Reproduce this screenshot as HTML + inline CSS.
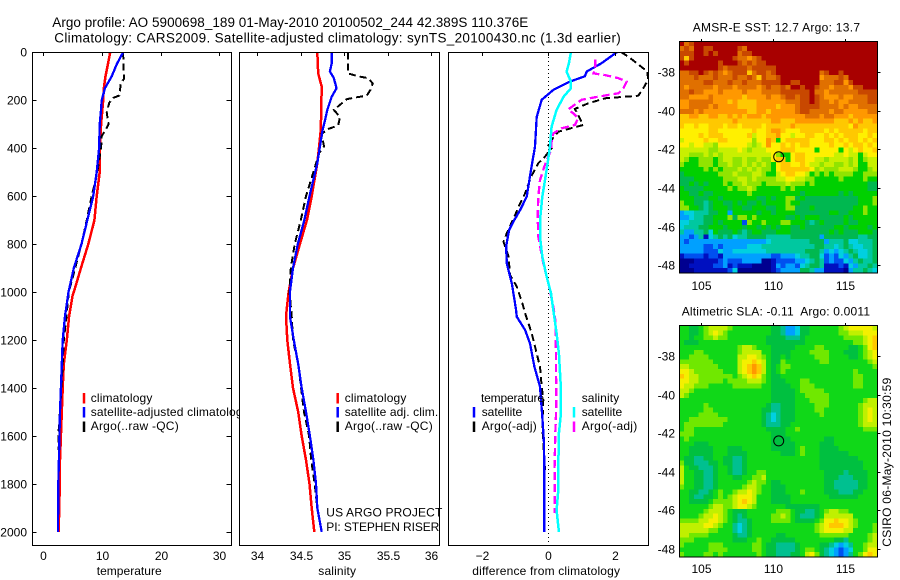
<!DOCTYPE html>
<html>
<head>
<meta charset="utf-8">
<title>Argo profile 5900698_189</title>
<style>
html,body{margin:0;padding:0;background:#fff;}
svg{display:block;}
text{font-family:"Liberation Sans",sans-serif;font-size:12px;fill:#000;}
.ttl{font-size:13.5px;}
.frame{fill:none;stroke:#000;stroke-width:1;shape-rendering:crispEdges;}
.bg{fill:#fff;stroke:none;}
</style>
</head>
<body>
<svg id="figure" xmlns="http://www.w3.org/2000/svg" width="900" height="580" viewBox="0 0 900 580">
<rect class="bg" x="0" y="0" width="900" height="580"/>
<text class="ttl" x="52.3" y="27" textLength="476" lengthAdjust="spacing">Argo profile: AO 5900698_189 01-May-2010 20100502_244 42.389S 110.376E</text>
<text class="ttl" x="54.3" y="42.5" textLength="566.5" lengthAdjust="spacing">Climatology: CARS2009. Satellite-adjusted climatology: synTS_20100430.nc (1.3d earlier)</text>

<g id="panel-t">
<rect class="bg" x="32.5" y="52.5" width="199" height="493"/>
<g id="series-t" clip-path="url(#clip-t)"></g>
<rect class="frame" x="32.5" y="52.5" width="199" height="493"/>
<g id="ticks-t"></g>
<text x="96.7" y="575" textLength="65" lengthAdjust="spacing">temperature</text>
<g>
<line x1="84" x2="84" y1="393" y2="403.5" stroke="#f00" stroke-width="2.5"/>
<line x1="84" x2="84" y1="407" y2="417.5" stroke="#00f" stroke-width="2.5"/>
<line x1="84" x2="84" y1="421.5" y2="432" stroke="#000" stroke-width="2.5"/>
<text x="90.7" y="402" textLength="61.7" lengthAdjust="spacing">climatology</text>
<text x="90.7" y="416" textLength="158" lengthAdjust="spacing">satellite-adjusted climatology</text>
<text x="90.7" y="430" textLength="88" lengthAdjust="spacing">Argo(..raw -QC)</text>
</g>
</g>

<g id="panel-s">
<rect class="bg" x="239.5" y="52.5" width="200" height="493"/>
<g id="series-s" clip-path="url(#clip-s)"></g>
<g id="ticks-s"></g>
<text x="318.3" y="575" textLength="37.7" lengthAdjust="spacing">salinity</text>
<g>
<line x1="337.7" x2="337.7" y1="393" y2="403.5" stroke="#f00" stroke-width="2.5"/>
<line x1="337.7" x2="337.7" y1="407" y2="417.5" stroke="#00f" stroke-width="2.5"/>
<line x1="337.7" x2="337.7" y1="421.5" y2="432" stroke="#000" stroke-width="2.5"/>
<text x="344.7" y="402" textLength="61.7" lengthAdjust="spacing">climatology</text>
<text x="344.7" y="416" textLength="93.5" lengthAdjust="spacing">satellite adj. clim.</text>
<text x="344.7" y="430" textLength="88" lengthAdjust="spacing">Argo(..raw -QC)</text>
</g>
<text x="326.3" y="516.7" textLength="116" lengthAdjust="spacing">US ARGO PROJECT</text>
<text x="326.3" y="531" textLength="113" lengthAdjust="spacing">PI: STEPHEN RISER</text>
<rect class="frame" x="239.5" y="52.5" width="200" height="493"/>
</g>

<g id="panel-d">
<rect class="bg" x="448.5" y="52.5" width="200" height="493"/>
<g id="series-d" clip-path="url(#clip-d)"></g>
<rect class="frame" x="448.5" y="52.5" width="200" height="493"/>
<g id="ticks-d"></g>
<text x="472.3" y="575" textLength="147.7" lengthAdjust="spacing">difference from climatology</text>
<g>
<line x1="474" x2="474" y1="407" y2="417.5" stroke="#00f" stroke-width="2.5"/>
<line x1="474" x2="474" y1="421.5" y2="432" stroke="#000" stroke-width="2.5"/>
<line x1="574" x2="574" y1="407" y2="417.5" stroke="#0ff" stroke-width="2.5"/>
<line x1="574" x2="574" y1="421.5" y2="432" stroke="#f0f" stroke-width="2.5"/>
<text x="481" y="402" textLength="63" lengthAdjust="spacing">temperature</text>
<text x="481.7" y="416" textLength="40.5" lengthAdjust="spacing">satellite</text>
<text x="481.7" y="430" textLength="55" lengthAdjust="spacing">Argo(-adj)</text>
<text x="581.7" y="402" textLength="37.5" lengthAdjust="spacing">salinity</text>
<text x="581.7" y="416" textLength="40.5" lengthAdjust="spacing">satellite</text>
<text x="581.7" y="430" textLength="55.5" lengthAdjust="spacing">Argo(-adj)</text>
</g>
</g>

<g id="map-sst"></g>
<text x="692.7" y="31.7" textLength="167.3" lengthAdjust="spacing">AMSR-E SST: 12.7 Argo: 13.7</text>
<g id="map-sla"></g>
<text x="681.7" y="315.7" textLength="188.3" lengthAdjust="spacing" xml:space="preserve">Altimetric SLA: -0.11  Argo: 0.0011</text>
<text transform="translate(891,546.7) rotate(-90)" x="0" y="0" textLength="169" lengthAdjust="spacing">CSIRO 06-May-2010 10:30:59</text>

<defs>
<clipPath id="clip-t"><rect x="33" y="53" width="198" height="492"/></clipPath>
<clipPath id="clip-s"><rect x="240" y="53" width="199" height="492"/></clipPath>
<clipPath id="clip-d"><rect x="449" y="53" width="199" height="492"/></clipPath>
</defs>
</svg>

<script>
// ---- Tick labels ----
const depthTicks = [0,200,400,600,800,1000,1200,1400,1600,1800,2000];
const tempTicks = [0,10,20,30];
const salTicks = [34,34.5,35,35.5,36];
const diffTicks = [-2,0,2];
const lonTicks = [105,110,115];
const latTicks = [-38,-40,-42,-44,-46,-48];

// ---- Temperature panel (depth dbar, degC) ----
const climTempDepth = [0,50,100,150,200,300,400,500,600,700,800,900,1000,1012,1100,1200,1300,1400,1500,1600,1700,1800,1880,2000];
const climTempValue = [11.4,11.0,10.6,10.3,10.2,9.85,9.65,9.6,9.1,8.7,7.67,6.4,5.2,5.0,4.4,4.0,3.5,3.3,3.15,3.0,2.85,2.8,2.75,2.6];
const satTempDepth = [0,50,100,150,200,250,300,400,500,600,700,800,900,1000,1100,1200,1300,1400,1500,1600,1700,1800,2000];
const satTempValue = [13.6,12.5,11.65,10.5,9.95,9.8,9.6,9.5,9.1,8.5,7.5,6.5,5.2,4.3,3.7,3.3,3.15,3.0,2.85,2.75,2.65,2.55,2.5];
const argoTempDepth = [0,110,130,180,190,210,250,300,320,350,400,450,500,600,700,800,1000,1100,1200,1400,1600,1700];
const argoTempValue = [13.6,13.75,13.2,12.95,11.9,11.25,10.8,11.1,10.7,9.95,9.85,9.5,9.2,8.25,7.4,6.5,4.35,3.95,3.5,3.1,2.55,2.7];

// ---- Salinity panel ----
const climSalDepth = [0,88,143,324,393,463,600,700,800,900,1000,1100,1200,1300,1400,1500,1600,1700,1800,1900,2000];
const climSalValue = [34.69,34.70,34.74,34.73,34.71,34.69,34.625,34.57,34.49,34.41,34.36,34.33,34.345,34.376,34.41,34.47,34.51,34.56,34.6,34.625,34.655];
const satSalDepth = [0,46,80,108,150,185,240,280,324,393,463,600,700,800,900,1000,1100,1200,1300,1400,1500,1600,1700,1800,1900,2000];
const satSalValue = [34.855,34.855,34.835,34.88,34.91,34.855,34.805,34.78,34.75,34.72,34.69,34.6,34.54,34.465,34.41,34.375,34.375,34.42,34.47,34.51,34.56,34.605,34.645,34.675,34.69,34.74];
const argoSalDepth = [0,88,100,108,130,157,180,195,240,270,305,320,340,393,420,500,600,700,800,900,1000,1100,1200,1300,1500,1600,1700,1800,1900];
const argoSalValue = [35.04,35.045,35.157,35.276,35.326,35.3,35.26,35.03,34.88,34.95,34.93,34.815,34.74,34.767,34.71,34.645,34.56,34.5,34.43,34.385,34.37,34.395,34.41,34.47,34.537,34.595,34.62,34.66,34.69];

// ---- Difference panel ----
const satTempDiffDepth = [0,46,80,100,122,157,198,270,393,491,602,658,706,741,810,880,963,1067,1103,1158,1214,1311,1394,1520,1630,1780,2000];
const satTempDiffValue = [2.06,1.6,1.16,1.1,0.65,0.15,-0.2,-0.35,-0.4,-0.52,-0.65,-0.85,-1.05,-1.18,-1.27,-1.25,-1.1,-0.98,-0.95,-0.7,-0.55,-0.42,-0.25,-0.18,-0.13,-0.12,-0.12];
const argoTempDiffDepth = [0,18,81,116,150,181,192,213,236,275,303,331,373,380,400,435,463,519,588,630,672,755,790,852,929,977,1047,1088,1172,1311,1394,1450,1561,1630,1742];
const argoTempDiffValue = [2.2,2.41,2.99,3.0,2.86,2.71,1.71,1.2,0.8,0.95,1.05,0.3,0.05,-0.05,0.1,-0.1,-0.3,-0.52,-0.7,-0.85,-0.98,-1.25,-1.35,-1.2,-1.15,-0.95,-0.78,-0.7,-0.5,-0.25,-0.2,-0.15,-0.18,-0.15,-0.1];
const satSalDiffDepth = [0,46,81,122,150,185,240,310,393,463,533,602,700,770,852,935,1005,1075,1172,1255,1380,1520,1589,1728,1825,1909,2000];
const satSalDiffValue = [0.68,0.62,0.55,0.68,0.68,0.46,0.25,0.1,0.05,-0.02,-0.1,-0.18,-0.25,-0.25,-0.18,-0.05,0.08,0.15,0.25,0.32,0.37,0.37,0.32,0.3,0.3,0.25,0.32];
const argoSalDiffDepth = [30,64,88,95,108,122,150,171,185,198,233,240,254,275,303,317,338,373,407,477,533,602,686,770,880,963,1067,1116,1241,1477,1589,1728,1922];
const argoSalDiffValue = [1.41,1.41,1.36,1.71,2.11,2.36,2.26,2.11,1.5,1.0,0.65,0.6,0.75,0.9,0.8,0.4,0.15,0.1,0.08,-0.12,-0.25,-0.3,-0.32,-0.3,-0.15,0,0.16,0.21,0.23,0.24,0.21,0.19,0.19];

// ---- Float position ----
const argoLon = 110.376;
const argoLat = -42.389;

// ---- Map colour classes, low to high ----
const sstPalette = ['#000090','#0010c0','#0050f0','#00a0ff','#00d0e0','#00c8a0','#00b850','#00d000','#90e400','#c8f000','#fff000','#ffc800','#ff9800','#e07000','#c84800','#a80000'];
const slaPalette = ['#000090','#0010c0','#0050f0','#00a0ff','#00d0e0','#00c090','#00c040','#10d818','#70e800','#c0f000','#f4f000','#ffc800','#ff9800','#e07000','#c84800','#a80000'];

// ---- SST map: colour class per cell, north to south ----
const sstGrid = [
[15,13,14,15,15,15,15,15,15,15,15,15,15,15,15,15,15,15,15,15,15,15,15,15,15,15,15,15,15,15,15,15,15,15,15,15,15,15,15,15,15],
[13,14,13,15,15,14,14,15,15,15,15,15,14,13,15,15,15,15,15,15,15,15,15,15,15,15,15,15,15,15,15,15,15,15,15,15,15,15,15,15,15],
[14,14,14,15,15,14,15,14,15,15,15,15,13,14,14,15,15,15,15,15,15,15,15,15,15,15,15,15,15,15,15,15,15,15,15,15,15,15,15,15,15],
[14,11,14,15,15,15,15,15,15,15,15,14,13,13,12,13,14,15,15,15,15,15,15,15,15,15,15,15,15,15,15,15,15,15,15,15,15,15,15,15,15],
[15,14,15,15,15,15,15,15,14,15,15,15,14,13,14,13,14,14,15,15,15,15,15,15,15,15,15,15,15,15,15,15,15,15,15,15,15,15,15,15,15],
[15,15,15,15,15,15,15,15,14,13,14,14,14,14,13,14,14,14,14,14,15,15,15,15,15,15,15,15,15,15,15,15,15,15,15,15,15,15,15,15,15],
[13,13,14,14,15,14,13,14,13,12,13,14,14,14,11,13,14,14,13,14,15,15,15,15,15,15,15,15,15,13,14,15,15,14,15,15,15,15,15,15,15],
[13,13,13,14,13,13,13,14,13,13,13,14,13,13,14,13,11,14,13,13,14,15,15,15,15,15,15,15,15,12,13,13,13,14,13,15,15,15,15,15,15],
[13,13,13,13,13,14,14,13,13,13,14,13,13,14,13,13,13,14,14,14,14,15,15,14,14,15,15,15,15,13,13,13,14,14,12,14,15,15,15,15,15],
[13,12,13,13,13,13,13,12,13,13,13,12,13,13,13,13,12,13,14,13,13,14,13,15,15,14,15,15,14,13,13,12,13,13,13,12,14,14,15,15,15],
[13,13,14,13,13,12,12,12,13,12,12,12,12,13,12,12,12,13,13,13,13,14,14,14,14,14,14,15,13,13,12,13,13,13,13,13,13,14,14,14,14],
[13,13,12,12,12,12,13,12,12,12,12,12,12,11,12,12,12,12,13,12,12,13,14,14,13,14,14,15,14,13,12,12,12,13,12,12,13,13,13,14,14],
[12,12,13,13,13,13,13,12,12,12,11,12,11,11,11,11,12,12,12,12,12,12,13,13,13,14,14,15,14,13,13,12,13,12,12,13,13,13,13,14,14],
[12,12,13,13,13,13,12,13,12,12,12,12,11,11,11,11,12,12,12,12,11,12,12,12,13,14,14,14,14,13,13,13,13,12,13,12,12,13,13,13,13],
[13,13,13,12,13,12,12,12,12,12,12,12,12,12,11,11,12,12,11,12,12,12,12,12,13,14,14,13,13,13,13,12,13,13,12,12,12,12,12,13,13],
[11,11,12,12,11,11,12,12,11,11,12,11,12,11,12,12,12,11,12,12,12,12,12,12,12,12,13,13,13,12,13,13,12,12,12,11,12,12,12,12,12],
[11,11,11,11,11,11,11,11,11,11,11,12,11,11,11,11,11,11,11,12,12,11,11,11,12,12,12,12,12,12,12,12,11,11,11,12,11,12,11,11,12],
[11,10,10,11,10,10,11,11,11,10,11,11,10,11,11,11,11,10,11,11,11,11,11,12,11,11,11,11,11,11,11,11,11,11,11,10,12,11,11,11,11],
[10,10,10,10,10,10,11,11,10,10,10,10,10,10,10,11,10,10,11,12,12,11,10,10,10,11,11,11,11,11,10,11,10,11,11,11,11,11,10,11,11],
[10,10,10,10,11,10,11,11,11,10,10,10,10,10,11,9,10,10,11,11,12,10,10,9,10,10,11,11,10,10,11,10,11,10,11,11,11,10,10,11,10],
[9,10,10,10,10,11,10,10,11,11,10,10,10,10,10,8,10,10,12,11,7,10,11,11,11,11,11,10,10,10,11,11,10,11,10,11,11,10,11,10,11],
[10,10,9,10,10,9,9,8,10,10,10,10,10,10,9,8,9,10,12,10,10,11,10,11,10,11,11,10,10,10,10,11,10,10,11,10,11,11,10,11,10],
[9,9,9,9,9,9,8,8,9,9,9,9,10,9,8,9,9,9,10,10,10,11,11,11,10,10,10,10,7,10,10,10,10,7,10,9,10,11,10,10,11],
[9,9,8,8,8,9,8,9,8,9,9,9,9,9,9,9,9,9,9,10,8,7,7,10,11,11,10,10,10,10,10,10,9,9,10,9,9,7,9,10,10],
[9,8,7,7,8,8,8,7,8,9,9,8,8,9,8,8,9,8,8,10,11,11,7,10,11,11,10,10,9,9,8,9,9,9,9,8,9,7,8,9,9],
[8,7,7,7,8,8,8,7,8,8,9,8,8,9,8,9,8,9,8,7,10,11,11,10,10,11,10,9,9,8,9,9,8,8,9,8,9,7,7,9,9],
[7,7,7,7,7,8,7,8,7,8,8,8,9,8,9,8,9,8,8,7,10,11,11,11,11,11,11,10,8,9,8,8,8,9,9,9,8,7,7,8,9],
[6,7,7,7,7,7,7,7,8,8,8,9,8,8,8,9,9,8,7,7,9,10,11,11,10,10,9,7,8,7,8,7,8,8,8,8,7,7,8,8,8],
[6,6,6,7,7,7,7,7,7,8,8,8,9,9,8,9,8,8,8,8,9,9,10,10,9,9,8,8,7,7,7,7,7,8,7,7,7,7,8,7,7],
[6,6,7,6,7,6,7,7,7,8,7,8,8,9,8,8,8,7,8,8,8,8,9,8,8,8,7,8,7,7,7,7,7,7,7,7,7,7,7,6,6],
[7,6,6,6,6,7,7,7,7,7,8,7,8,8,9,8,7,7,7,7,7,8,7,8,7,7,7,7,7,7,7,7,7,7,7,7,7,7,7,6,6],
[7,7,6,6,7,6,6,7,7,7,7,7,7,7,8,7,7,7,7,7,7,7,7,7,7,6,7,7,7,7,7,7,7,6,7,6,7,7,7,7,7],
[7,7,7,6,6,6,7,7,6,7,7,7,7,7,7,7,6,6,7,6,7,7,8,8,6,7,6,6,6,6,6,6,6,6,6,6,6,7,7,7,8],
[8,7,7,6,6,5,6,7,7,6,6,7,6,7,6,6,7,6,7,7,7,7,8,7,7,6,6,6,6,6,6,6,6,6,6,6,6,7,7,7,8],
[8,8,7,7,6,5,6,7,7,7,6,7,7,6,6,7,7,7,6,6,7,7,8,8,6,6,6,7,6,6,6,6,6,6,6,6,7,7,8,7,7],
[3,4,4,5,5,5,6,6,7,7,3,7,7,7,7,7,6,7,7,6,7,7,7,7,6,6,6,6,6,6,6,7,7,6,6,7,7,7,8,7,7],
[3,3,4,5,5,6,6,7,7,7,8,6,8,8,7,8,7,7,7,7,7,7,6,6,7,6,7,7,7,6,6,6,6,6,7,6,7,7,7,7,7],
[4,4,5,5,5,6,6,7,6,7,7,7,7,2,8,7,7,8,7,7,7,8,8,7,7,7,6,5,6,7,6,6,6,6,7,6,6,7,7,7,7],
[4,5,5,5,6,6,7,7,7,6,7,7,7,6,7,7,6,7,6,7,6,7,7,6,6,7,6,6,6,6,6,6,7,7,6,7,7,7,7,6,7],
[5,3,3,5,5,6,4,7,6,6,6,7,6,5,6,7,7,6,6,6,7,7,7,6,6,6,6,6,6,6,6,7,6,7,6,6,6,7,7,7,6],
[3,3,2,3,5,1,4,5,6,5,6,4,5,5,6,6,6,6,5,5,5,5,5,6,6,6,6,6,6,3,6,6,6,6,6,6,6,5,5,6,6],
[3,2,3,3,3,3,3,3,3,3,3,3,3,3,3,3,3,3,4,5,5,5,5,5,5,5,5,6,6,6,3,5,5,5,6,4,4,5,5,5,6],
[3,3,3,3,3,2,2,3,2,3,3,3,3,3,4,4,4,5,5,5,5,5,5,5,5,5,5,5,6,6,5,5,4,5,6,5,4,4,5,5,6],
[3,3,3,3,3,2,2,2,4,3,3,4,4,4,4,4,4,4,5,5,5,5,5,5,5,5,6,6,6,5,3,4,3,4,5,6,5,4,4,5,6],
[1,2,2,2,2,1,2,2,1,3,3,3,3,3,3,3,3,3,3,2,2,3,3,3,4,5,5,6,6,4,2,3,2,4,3,5,6,4,4,5,6],
[0,0,0,1,1,1,1,1,2,3,2,2,2,3,3,3,3,0,0,1,2,2,2,2,3,3,4,5,6,5,2,3,2,2,4,3,5,6,5,5,6],
[0,0,1,1,1,1,1,2,2,3,1,2,1,1,1,0,0,0,0,1,3,2,3,3,2,4,5,6,6,5,1,1,1,2,1,4,3,5,5,6,5],
[0,0,0,1,1,1,1,1,1,1,2,4,0,0,0,0,0,0,0,1,2,3,3,3,3,6,6,5,3,3,1,1,1,1,0,3,5,5,6,5,4]
];

// ---- SLA map: colour class per cell, north to south ----
const slaGrid = [
[7,7,6,6,7,8,9,9,9,9,8,7,7,7,7,7,7,7,7,6,6,5,3,3,4,6,6,7,7,7,7,7,7,8,9,10,10,10,10,10,9],
[7,7,6,6,7,8,9,10,9,8,7,7,7,7,7,7,7,7,7,6,6,5,3,3,4,6,6,7,7,7,7,7,7,8,8,9,9,9,10,10,10],
[7,7,6,7,7,8,8,9,8,8,7,7,7,7,7,7,7,7,6,6,6,6,5,5,5,6,7,7,7,7,7,7,7,7,8,8,8,8,9,10,11],
[7,6,6,6,7,7,7,7,7,7,7,7,7,7,7,7,7,7,6,6,6,6,6,6,6,6,7,7,7,7,7,7,7,7,7,7,8,8,9,10,11],
[7,7,7,7,7,7,7,7,7,7,7,7,8,9,9,8,7,7,7,6,6,6,6,6,7,7,7,7,8,8,7,7,7,7,7,6,6,7,8,10,11],
[7,7,7,8,8,7,7,7,7,7,7,7,8,9,9,9,9,7,7,6,6,6,6,7,7,7,7,8,8,8,8,7,7,7,6,6,6,7,8,9,10],
[7,7,8,8,8,8,7,7,7,7,7,7,9,9,10,10,9,8,7,6,6,7,6,7,7,7,7,7,8,8,8,7,7,7,7,6,6,7,8,9,10],
[8,8,8,8,8,8,8,7,7,7,7,7,9,10,10,11,10,9,7,6,6,8,7,7,7,7,7,7,7,8,8,7,7,7,7,7,7,7,7,8,9],
[9,9,8,8,8,8,8,8,7,7,7,7,9,10,11,12,11,9,7,6,7,8,8,7,7,7,7,7,7,7,7,7,7,7,7,7,7,7,7,7,8],
[10,10,9,8,8,8,8,8,8,7,7,7,9,10,11,12,11,9,7,6,7,8,7,7,7,7,7,7,7,7,7,7,7,7,7,7,8,7,7,7,7],
[11,10,9,9,8,8,8,8,8,8,8,7,8,9,10,11,10,8,7,6,6,7,7,7,7,7,7,7,7,7,7,7,7,7,7,7,8,8,7,7,7],
[10,10,9,9,8,8,8,8,8,7,8,8,8,8,9,9,9,8,7,6,6,6,7,7,7,8,8,7,7,7,7,7,7,7,7,7,8,8,7,7,7],
[10,9,9,8,8,8,7,7,7,7,7,8,8,8,8,8,8,7,7,6,6,6,6,7,7,8,8,8,7,7,7,7,7,7,7,7,8,8,7,7,7],
[9,9,8,7,7,7,7,7,7,7,7,7,7,7,7,7,7,7,7,6,6,6,6,6,7,8,8,8,8,8,7,7,7,7,7,7,7,7,7,7,7],
[9,8,7,7,7,7,7,7,7,7,7,7,7,7,7,7,7,7,7,6,6,6,6,6,7,7,8,8,8,8,8,7,7,7,7,7,7,7,7,7,7],
[7,7,7,7,7,7,7,7,7,7,7,7,7,7,7,7,7,7,7,6,6,6,6,6,7,7,7,8,8,8,8,7,7,7,7,7,7,7,8,9,9],
[7,7,7,7,7,8,7,7,7,7,7,7,7,7,7,7,7,7,6,5,5,6,6,6,7,7,7,7,8,8,8,7,7,7,7,7,7,8,9,9,9],
[7,7,7,7,7,8,8,7,7,7,7,7,7,7,7,7,7,6,6,5,5,6,6,6,7,7,7,7,8,8,7,7,7,7,7,7,7,8,9,10,9],
[7,7,7,7,8,8,8,8,7,7,7,7,7,7,7,7,7,6,5,4,5,6,6,6,7,7,7,7,7,8,7,7,7,7,7,7,7,8,9,10,9],
[7,7,8,8,8,8,8,8,8,8,7,7,7,7,7,7,7,6,5,4,5,6,6,6,7,7,7,7,7,7,7,7,7,7,7,7,7,8,9,10,9],
[7,8,8,8,8,8,8,8,8,7,7,7,7,7,7,7,7,6,5,5,5,6,6,7,7,7,7,7,7,7,7,7,7,7,7,7,7,8,9,9,9],
[7,8,8,7,7,7,7,7,7,7,7,7,7,7,7,7,7,7,6,6,6,6,7,7,8,7,7,7,7,7,7,7,7,7,7,7,7,7,8,8,8],
[8,8,8,7,7,7,7,7,7,7,7,7,7,7,7,7,7,7,7,6,6,6,7,7,7,7,7,7,7,7,7,7,7,7,7,7,7,7,7,7,7],
[7,8,7,7,7,7,7,7,7,7,7,7,7,7,7,7,7,7,7,6,6,6,6,7,7,7,7,7,7,7,6,6,7,7,7,7,7,7,7,7,7],
[7,7,7,6,6,6,7,7,7,7,7,7,7,7,7,7,7,7,7,6,6,6,6,6,7,7,7,7,7,6,6,6,7,7,7,7,7,7,7,7,7],
[7,7,6,6,6,6,6,7,7,7,6,6,6,7,7,7,7,7,7,6,6,6,6,6,7,8,7,7,7,6,6,6,6,7,7,7,7,7,7,7,7],
[7,7,6,6,6,6,6,7,7,7,6,6,6,6,7,7,7,7,7,7,7,6,6,6,7,8,7,7,7,6,6,6,6,6,6,7,7,7,7,7,7],
[7,6,6,5,5,6,6,7,7,6,6,5,5,6,7,7,7,7,7,7,7,7,7,7,7,7,7,7,7,6,6,6,6,6,6,6,6,7,7,7,7],
[8,6,6,5,5,5,6,6,7,6,6,5,5,6,7,7,7,7,7,7,7,7,7,7,7,7,7,7,7,6,6,6,6,6,6,6,6,6,7,7,7],
[9,7,6,6,5,5,5,6,7,7,6,5,5,6,7,7,7,7,7,7,7,7,7,7,7,7,7,7,7,6,6,6,6,6,6,6,6,6,7,7,7],
[9,7,7,6,6,5,5,6,7,7,6,5,5,6,7,7,8,8,7,7,7,7,7,7,7,7,7,7,7,7,6,6,6,6,5,6,6,6,6,7,7],
[9,7,7,6,6,5,5,6,7,7,7,6,6,7,7,8,8,9,7,7,7,7,7,7,7,7,7,7,7,7,6,6,6,5,5,5,6,6,6,7,7],
[9,7,7,6,6,5,5,6,7,7,7,7,7,7,8,9,8,8,7,6,6,7,7,7,7,7,7,7,7,7,6,6,5,5,5,5,5,6,6,7,7],
[8,7,7,6,6,5,5,6,7,7,7,7,7,8,9,9,8,7,7,6,6,6,7,7,7,7,7,7,7,7,6,6,5,5,5,5,5,6,6,7,7],
[7,7,6,6,5,5,6,7,8,7,7,8,9,9,10,9,8,7,7,6,6,6,7,7,7,8,7,7,7,7,6,6,6,5,5,5,6,6,7,7,7],
[7,7,6,5,5,6,6,7,8,7,8,9,10,10,10,9,7,7,7,6,6,6,6,7,7,7,7,7,7,7,7,6,6,6,6,6,6,7,7,7,7],
[7,7,6,6,6,6,7,8,8,8,8,9,10,11,10,9,7,7,7,6,6,6,6,7,7,7,7,7,7,7,7,7,7,7,7,7,7,7,7,7,7],
[7,7,7,7,7,7,8,9,9,8,8,9,10,10,9,8,7,7,7,7,7,7,6,6,6,6,6,6,6,7,7,7,7,7,7,7,7,7,7,7,7],
[7,7,7,7,7,8,9,9,9,8,7,6,6,6,7,7,7,7,7,7,8,8,8,7,6,6,5,5,6,7,8,9,9,8,8,7,7,7,7,7,7],
[7,7,7,7,8,9,9,10,9,8,7,6,5,6,7,7,7,7,7,8,8,9,8,7,6,5,5,5,6,7,9,9,9,9,9,9,7,7,7,7,7],
[8,8,8,8,9,9,10,10,9,8,7,6,5,5,6,7,7,7,7,8,8,8,8,7,6,6,6,6,7,8,10,10,11,10,10,9,8,7,7,7,7],
[9,9,9,9,9,10,10,9,8,7,7,5,4,5,6,7,7,7,7,7,7,7,7,7,7,7,7,7,8,9,10,11,11,11,10,9,8,7,7,7,8],
[9,9,9,9,9,9,8,8,7,7,7,5,4,5,6,7,7,7,7,7,7,7,7,7,7,7,7,7,8,9,10,10,10,10,9,9,7,7,7,7,8],
[9,9,8,8,8,8,7,7,7,7,7,6,5,5,6,7,7,7,7,7,6,6,7,7,7,7,7,7,7,8,8,8,8,8,8,7,7,7,7,8,9],
[8,8,8,7,7,7,7,7,7,7,7,6,6,6,7,7,8,7,7,6,6,6,6,6,7,7,7,7,7,7,7,7,6,6,5,7,7,7,7,8,9],
[8,7,7,7,7,7,8,8,8,7,7,7,7,7,7,8,8,7,6,6,5,5,5,5,6,7,7,7,7,6,6,5,4,3,4,5,7,7,8,9,9],
[7,7,7,7,7,7,8,8,8,8,7,7,7,7,7,8,8,7,6,6,5,5,5,5,6,7,8,8,7,6,5,4,3,2,3,4,7,7,8,10,10],
[8,7,7,7,7,8,8,7,8,7,7,7,7,7,7,7,8,7,6,6,5,5,5,6,6,7,9,10,8,6,5,4,3,2,3,5,7,8,10,11,10]
];

// ---- Axis functions ----
const NS = 'http://www.w3.org/2000/svg';
function yDepth(d){ return 52.3 + d * 0.2398; }
function xTemp(v){ return 43.3 + v * 5.87; }
function xSal(v){ return 257.3 + (v - 34) * 87; }
function xDiff(v){ return 548.3 + v * 33.2; }
const LON_STEP = 0.336;
const LAT_STEP = 0.25;
const LON_WEST = 103.46;
const LAT_NORTH = -36.41;
function xLon(lon){ return 773.3 + (lon - 110) * 14.37; }
function ySstLat(lat){ return 149.3 + (-42 - lat) * 19.3; }
function ySlaLat(lat){ return 433.4 + (-42 - lat) * 19.27; }

function mk(tag, attrs){
  const el = document.createElementNS(NS, tag);
  for (const k in attrs) el.setAttribute(k, attrs[k]);
  return el;
}

function drawLine(parentId, name, depths, values, xf, color, width, dash){
  const pts = depths.map(function(d, i){ return xf(values[i]).toFixed(1) + ',' + yDepth(d).toFixed(1); }).join(' ');
  const el = mk('polyline', {points: pts, fill: 'none', stroke: color, 'stroke-width': width, 'shape-rendering': 'crispEdges'});
  if (dash) el.setAttribute('stroke-dasharray', dash);
  
  
  document.getElementById(parentId).appendChild(el);
}

function tickLine(parent, name, x1, y1, x2, y2){
  const el = mk('line', {x1: x1, y1: y1, x2: x2, y2: y2, stroke: '#000', 'stroke-width': 1, 'shape-rendering': 'crispEdges'});
  
  
  parent.appendChild(el);
}

function tickText(parent, name, x, y, str, anchor){
  const el = mk('text', {x: x, y: y, 'text-anchor': anchor});
  el.textContent = str;
  
  
  parent.appendChild(el);
}

// ---- Profile series ----
drawLine('series-t', 'climatology-temperature-line', climTempDepth, climTempValue, xTemp, '#f00', 2.5);
drawLine('series-t', 'argo-temperature-line', argoTempDepth, argoTempValue, xTemp, '#000', 2, '7 4');
drawLine('series-t', 'satellite-temperature-line', satTempDepth, satTempValue, xTemp, '#00f', 2.3);

drawLine('series-s', 'climatology-salinity-line', climSalDepth, climSalValue, xSal, '#f00', 2.5);
drawLine('series-s', 'argo-salinity-line', argoSalDepth, argoSalValue, xSal, '#000', 2, '7 4');
drawLine('series-s', 'satellite-salinity-line', satSalDepth, satSalValue, xSal, '#00f', 2.3);

(function(){
  const z = mk('line', {x1: xDiff(0), x2: xDiff(0), y1: 53, y2: 545, stroke: '#000', 'stroke-width': 1, 'stroke-dasharray': '1 3', 'shape-rendering': 'crispEdges'});
  
  
  document.getElementById('series-d').appendChild(z);
})();
drawLine('series-d', 'argo-temperature-difference-line', argoTempDiffDepth, argoTempDiffValue, xDiff, '#000', 2, '7 4');
drawLine('series-d', 'satellite-temperature-difference-line', satTempDiffDepth, satTempDiffValue, xDiff, '#00f', 2.3);
drawLine('series-d', 'argo-salinity-difference-line', argoSalDiffDepth, argoSalDiffValue, xDiff, '#f0f', 2.3, '8 4');
drawLine('series-d', 'satellite-salinity-difference-line', satSalDiffDepth, satSalDiffValue, xDiff, '#0ff', 2.5);

// ---- Profile ticks ----
(function(){
  const gt = document.getElementById('ticks-t');
  depthTicks.forEach(function(d){
    const y = Math.round(yDepth(d)) + 0.5;
    tickLine(gt, 'depth-tick-left', 32.5, y, 36.5, y);
    tickLine(gt, 'depth-tick-right', 226.5, y, 231.5, y);
    tickText(gt, 'depth-tick-label', 27, y + 4, String(d), 'end');
  });
  tempTicks.forEach(function(v){
    const x = Math.round(xTemp(v)) + 0.5;
    tickLine(gt, 'temperature-tick', x, 52.5, x, 56);
    tickText(gt, 'temperature-tick-label', x, 560, String(v), 'middle');
  });
  const gs = document.getElementById('ticks-s');
  salTicks.forEach(function(v){
    const x = Math.round(xSal(v)) + 0.5;
    tickLine(gs, 'salinity-tick', x, 52.5, x, 56);
    tickText(gs, 'salinity-tick-label', x, 560, String(v), 'middle');
  });
  const gd = document.getElementById('ticks-d');
  diffTicks.forEach(function(v){
    const x = Math.round(xDiff(v)) + 0.5;
    tickLine(gd, 'difference-tick', x, 52.5, x, 56);
    tickText(gd, 'difference-tick-label', x, 560, String(v).replace('-', '\u2212'), 'middle');
  });
})();

// ---- Maps ----
function drawMap(rootId, prefix, grid, palette, yLat, top, bottom, labelY){
  const root = document.getElementById(rootId);
  const cells = mk('g', {'shape-rendering': 'crispEdges'});
  
  
  root.appendChild(cells);
  grid.forEach(function(row, r){
    row.forEach(function(v, c){
      const x0 = xLon(LON_WEST + c * LON_STEP);
      const x1 = xLon(LON_WEST + (c + 1) * LON_STEP);
      const y0 = yLat(LAT_NORTH - r * LAT_STEP);
      const y1 = yLat(LAT_NORTH - (r + 1) * LAT_STEP);
      const cell = mk('rect', {x: x0.toFixed(2), y: y0.toFixed(2), width: (x1 - x0 + 0.3).toFixed(2), height: (y1 - y0 + 0.3).toFixed(2), fill: palette[Math.max(0, Math.min(palette.length - 1, v))]});
      
      
      cells.appendChild(cell);
    });
  });
  const frame = mk('rect', {x: 679.5, y: top, width: 198, height: bottom - top, fill: 'none', stroke: '#000', 'stroke-width': 1, 'shape-rendering': 'crispEdges'});
  
  
  root.appendChild(frame);
  lonTicks.forEach(function(lon){
    const x = Math.round(xLon(lon)) + 0.5;
    tickLine(root, prefix + '-longitude-tick', x, top - 2.5, x, top);
    tickText(root, prefix + '-longitude-label', x, labelY, String(lon), 'middle');
  });
  latTicks.forEach(function(lat){
    const y = Math.round(yLat(lat)) + 0.5;
    tickLine(root, prefix + '-latitude-tick', 877.5, y, 880.5, y);
    tickText(root, prefix + '-latitude-label', 675, y + 4, String(lat), 'end');
  });
  const dot = mk('circle', {cx: xLon(argoLon).toFixed(1), cy: yLat(argoLat).toFixed(1), r: 5, fill: 'none', stroke: '#000', 'stroke-width': 1});
  
  
  root.appendChild(dot);
}
drawMap('map-sst', 'sst', sstGrid, sstPalette, ySstLat, 41.5, 273, 290);
drawMap('map-sla', 'sla', slaGrid, slaPalette, ySlaLat, 325.5, 557, 573);
</script>
</body>
</html>
